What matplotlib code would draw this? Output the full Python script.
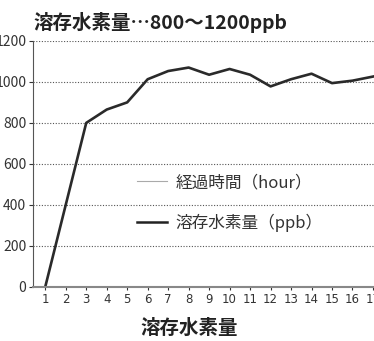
import matplotlib
matplotlib.use("Agg")
from matplotlib import pyplot as plt
from matplotlib.lines import Line2D

plt.rcParams['font.family'] = ['Noto Sans CJK JP', 'DejaVu Sans']

# readings per step (ppb)
steps = list(range(1, 18))
hydrogen = [0, 400, 800, 865, 900, 1013, 1053, 1070, 1035, 1063, 1035,
            978, 1013, 1040, 994, 1006, 1026]
yticks = [0, 200, 400, 600, 800, 1000, 1200]
title = '溶存水素量…800～1200ppb'
xlabel = '溶存水素量'
legend_labels = ['経過時間（hour）', '溶存水素量（ppb）']

fig = plt.figure(figsize=(3.74, 3.41), dpi=100)
ax = fig.add_axes([0.089, 0.159, 0.911, 0.721])

ax.plot(steps, hydrogen, color='#2a2a2a', lw=1.9)

ax.set_xlim(0.415, 17.05)
ax.set_ylim(0, 1200)
ax.set_xticks(steps)
ax.set_yticks(yticks)
ax.tick_params(axis='y', labelsize=10, length=3, pad=2, colors='#333333')
ax.tick_params(axis='x', labelsize=8.5, length=2.5, pad=2, colors='#333333')
for t in ax.get_xticklabels():
    t.set_fontfamily('Liberation Sans Narrow')

ax.grid(axis='y', ls=(0, (1, 1.5)), color='#555555', lw=0.8)
ax.spines['top'].set_visible(False)
ax.spines['right'].set_visible(False)
ax.spines['left'].set_color('#555555')
ax.spines['bottom'].set_color('#888888')
ax.spines['bottom'].set_linewidth(1.5)

handles = [Line2D([], [], color='#aaaaaa', lw=0.8),
           Line2D([], [], color='#222222', lw=1.8)]
ax.legend(handles, legend_labels, loc='upper left', bbox_to_anchor=(0.26, 0.52),
          frameon=False, fontsize=12, labelspacing=1.35, handlelength=1.8,
          handletextpad=0.5, labelcolor='#333333')

fig.text(0.089, 0.935, title, fontsize=14, fontweight='bold', color='#222222',
         va='center', ha='left')
fig.text(0.505, 0.038, xlabel, fontsize=14, fontweight='bold', color='#222222',
         va='center', ha='center')

fig.savefig('out.png', dpi=100)
